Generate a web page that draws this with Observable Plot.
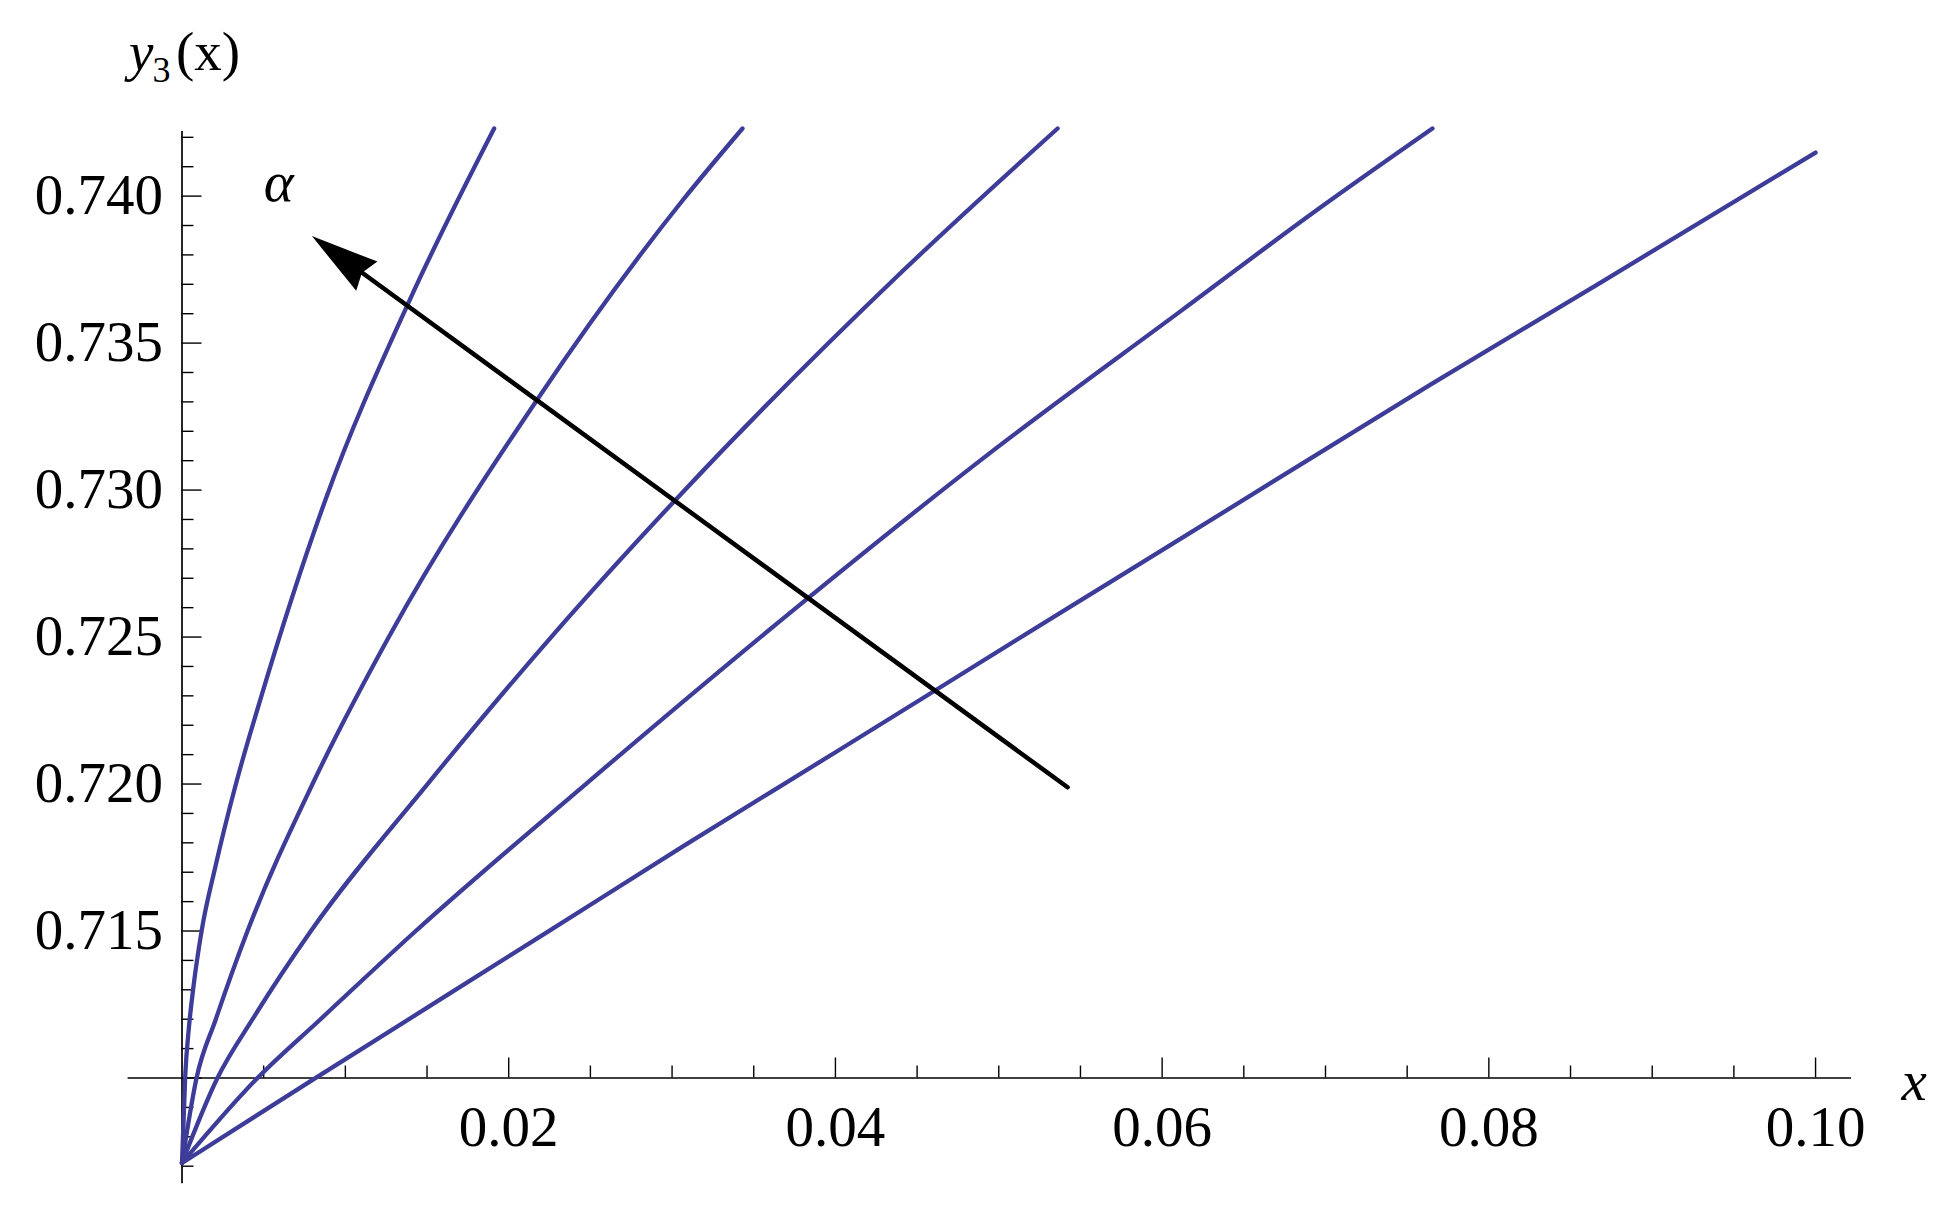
<!DOCTYPE html>
<html>
<head>
<meta charset="utf-8">
<script src="https://cdn.jsdelivr.net/npm/d3@7"></script>
<script src="https://cdn.jsdelivr.net/npm/@observablehq/plot@0.6"></script>
<style>
  html, body { margin: 0; padding: 0; background: #fff; }
  #chart svg { display: block; }
</style>
</head>
<body>
<div id="chart"></div>
<script>
// ---- data ----
const curve1X = [0, 0.0002, 0.00042, 0.0007, 0.0012, 0.00205, 0.0033, 0.0048, 0.0088, 0.01391, 0.01911];
const curve1Y = [0.70711, 0.7101, 0.7117, 0.7131, 0.715, 0.7172, 0.720, 0.72288, 0.7297, 0.73643, 0.7423];
const curve2X = [0, 0.00089, 0.00207, 0.00401, 0.00799, 0.01266, 0.02176, 0.03064, 0.03431];
const curve2Y = [0.70711, 0.710, 0.712, 0.715, 0.720, 0.725, 0.73309, 0.73985, 0.7423];
const curve3X = [0, 0.00217, 0.00432, 0.00789, 0.01503, 0.0226, 0.03064, 0.04391, 0.0536];
const curve3Y = [0.70711, 0.710, 0.712, 0.715, 0.720, 0.725, 0.72992, 0.73734, 0.7423];
const curve4X = [0, 0.00462, 0.00848, 0.01431, 0.02472, 0.03763, 0.04941, 0.06124, 0.06941, 0.07655];
const curve4Y = [0.70711, 0.710, 0.712, 0.715, 0.720, 0.72601, 0.73124, 0.73613, 0.7395, 0.7423];
const curve5X = [0, 0.00809, 0.02238, 0.03064, 0.04003, 0.05431, 0.06124, 0.07635, 0.08684, 0.1];
const curve5Y = [0.70711, 0.70997, 0.71497, 0.71787, 0.72109, 0.72601, 0.72838, 0.73356, 0.73706, 0.74148];

const xMajorTicks = [0.02, 0.04, 0.06, 0.08, 0.10];
const xMinorTicks = [0.005, 0.01, 0.015, 0.025, 0.03, 0.035, 0.045, 0.05, 0.055, 0.065, 0.07, 0.075, 0.085, 0.09, 0.095];
const yMajorTicks = [0.715, 0.720, 0.725, 0.730, 0.735, 0.740];
const yMinorTicks = [0.707, 0.708, 0.709, 0.711, 0.712, 0.713, 0.714, 0.716, 0.717, 0.718, 0.719,
  0.721, 0.722, 0.723, 0.724, 0.726, 0.727, 0.728, 0.729, 0.731, 0.732, 0.733, 0.734,
  0.736, 0.737, 0.738, 0.739, 0.741, 0.742];
const yMajorTicksAll = [0.710, 0.715, 0.720, 0.725, 0.730, 0.735, 0.740];

const xDomain = [0, 0.1022];
const yDomain = [0.710, 0.7423];
const xAxisExtent = [-0.0033, 0.1022];
const yAxisExtent = [0.7064, 0.7422];
const xAxisCross = 0.710;

const arrowTail = [0.05421, 0.71989];
const arrowTip = [0.00795, 0.73864];
const alphaPos = [0.0050, 0.73985];

const yLabelMain = "y";
const yLabelSub = "3";
const yLabelArg = "(x)";
const xLabel = "x";
const alphaText = "α";

// ---- build tables ----
const curves = [[curve1X, curve1Y], [curve2X, curve2Y], [curve3X, curve3Y], [curve4X, curve4Y], [curve5X, curve5Y]];
const curveData = curves.flatMap(([xs, ys], i) => xs.map((x, j) => ({x, y: ys[j], series: i})));

// ---- layout ----
const W = 1948, H = 1217;
const mL = 181.5, mR = 97, mT = 128, mB = 139.5;
const serif = "'Liberation Serif', 'Times New Roman', Times, serif";
const curveColor = "rgb(61,61,153)";

// arrow head direction via Plot's scale
const sx = Plot.scale({x: {domain: xDomain, range: [mL, W - mR]}});
const sy = Plot.scale({y: {domain: yDomain, range: [H - mB, mT]}});
const pdx = sx.apply(arrowTip[0]) - sx.apply(arrowTail[0]);
const pdy = sy.apply(arrowTip[1]) - sy.apply(arrowTail[1]);
const headAngle = Math.atan2(pdx, -pdy) * 180 / Math.PI;

const arrowHead = {
  draw(context) {
    context.moveTo(0, 0);
    context.lineTo(18, 68);
    context.lineTo(0, 62);
    context.lineTo(-18, 68);
    context.closePath();
  }
};

const chart = Plot.plot({
  width: W,
  height: H,
  marginLeft: mL,
  marginRight: mR,
  marginTop: mT,
  marginBottom: mB,
  style: {fontFamily: serif, fontSize: "57px", color: "black", background: "white", overflow: "visible"},
  x: {domain: xDomain},
  y: {domain: yDomain},
  marks: [
    // axis lines
    Plot.ruleX([0], {y1: yAxisExtent[0], y2: yAxisExtent[1], stroke: "black", strokeWidth: 1.7}),
    Plot.ruleY([xAxisCross], {x1: xAxisExtent[0], x2: xAxisExtent[1], stroke: "black", strokeWidth: 1.7}),
    // y ticks (inward)
    Plot.axisY({ticks: yMinorTicks, anchor: "left", tickSize: -12, tickFormat: () => "", strokeWidth: 1.4, label: null}),
    Plot.axisY({ticks: yMajorTicksAll, anchor: "left", tickSize: -20, tickFormat: () => "", strokeWidth: 1.4, label: null}),
    Plot.axisY({ticks: yMajorTicks, anchor: "left", tickSize: 0, tickPadding: 19, tickFormat: d3.format(".3f"),
      fontSize: 57, fontFamily: serif, label: null}),
    // x ticks (inward)
    Plot.axisX({ticks: xMinorTicks, anchor: "bottom", tickSize: -12, tickFormat: () => "", strokeWidth: 1.4, label: null}),
    Plot.axisX({ticks: xMajorTicks, anchor: "bottom", tickSize: -20, tickFormat: () => "", strokeWidth: 1.4, label: null}),
    Plot.axisX({ticks: xMajorTicks, anchor: "bottom", tickSize: 0, tickPadding: 28, tickFormat: d3.format(".2f"),
      fontSize: 57, fontFamily: serif, label: null}),
    // curves
    Plot.line(curveData, {x: "x", y: "y", z: "series", stroke: curveColor, strokeWidth: 4.3, curve: "monotone-x"}),
    // arrow
    Plot.arrow([[arrowTail, arrowTip]], {
      x1: d => d[0][0], y1: d => d[0][1], x2: d => d[1][0], y2: d => d[1][1],
      headLength: 0, insetEnd: 50, stroke: "black", strokeWidth: 4.5
    }),
    Plot.dot([arrowTip], {x: d => d[0], y: d => d[1], symbol: arrowHead, rotate: headAngle, fill: "black", stroke: "none", r: 10}),
    // alpha label
    Plot.text([alphaText], {x: () => alphaPos[0], y: () => alphaPos[1], text: d => d, textAnchor: "start", lineAnchor: "bottom",
      fontSize: 57, fontStyle: "italic", fontFamily: serif}),
    // y axis label  y_3(x)
    Plot.text([yLabelMain], {x: () => 0, frameAnchor: "top", text: d => d, textAnchor: "start", lineAnchor: "bottom",
      dx: -53, dy: -59, fontSize: 55, fontStyle: "italic", fontFamily: serif}),
    Plot.text([yLabelSub], {x: () => 0, frameAnchor: "top", text: d => d, textAnchor: "start", lineAnchor: "bottom",
      dx: -29.5, dy: -47, fontSize: 36, fontFamily: serif}),
    Plot.text([yLabelArg], {x: () => 0, frameAnchor: "top", text: d => d, textAnchor: "start", lineAnchor: "bottom",
      dx: -6, dy: -59, fontSize: 55, fontFamily: serif}),
    // x axis label
    Plot.text([xLabel], {x: () => xAxisExtent[1], y: () => xAxisCross, text: d => d, textAnchor: "start", lineAnchor: "bottom",
      dx: 50, dy: 22, fontSize: 57, fontStyle: "italic", fontFamily: serif})
  ]
});
document.getElementById("chart").appendChild(chart);
</script>
</body>
</html>
